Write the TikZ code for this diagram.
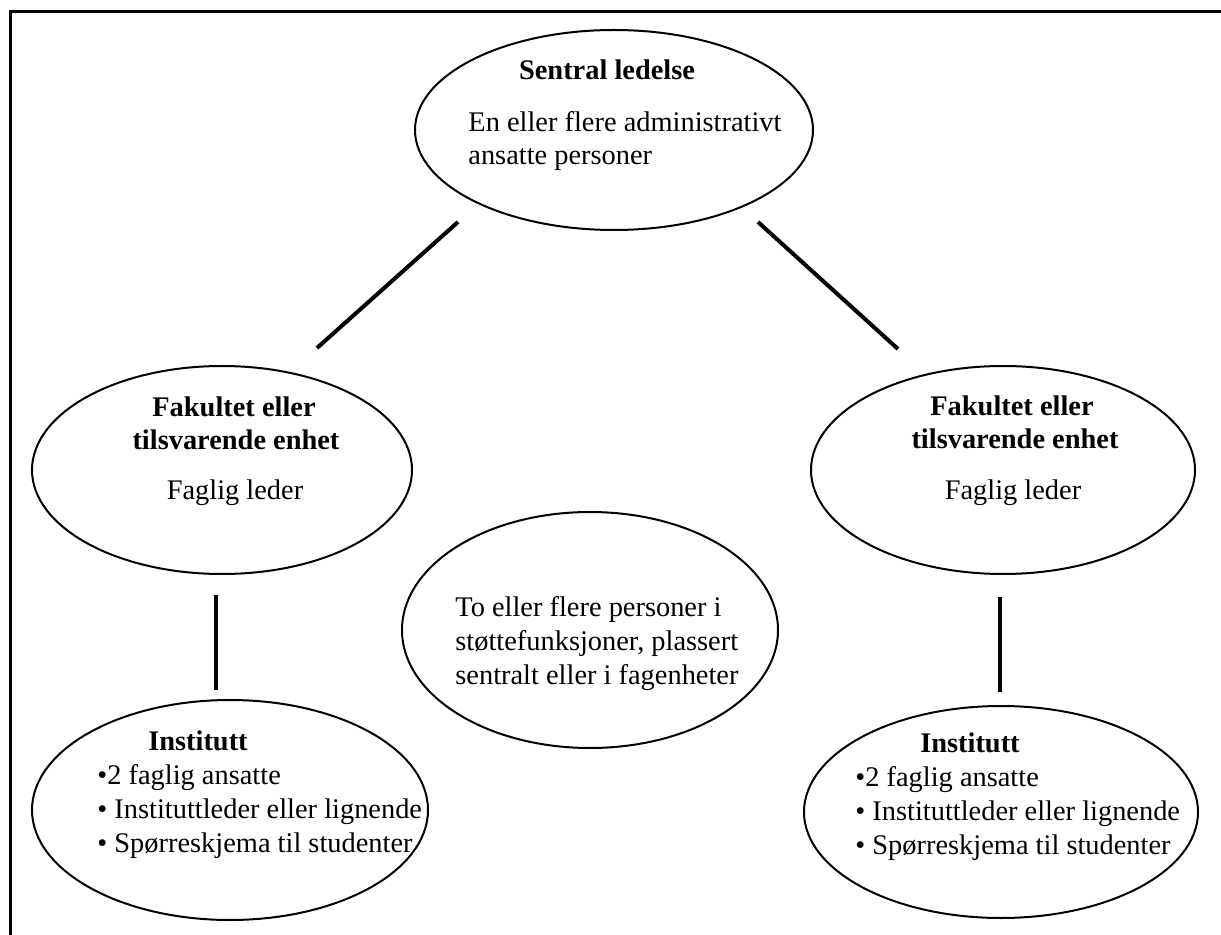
\documentclass[tikz,border=0pt]{standalone}
\usepackage{fontspec}
\setmainfont{Liberation Serif}
\usetikzlibrary{shapes.geometric}
\begin{document}
\begin{tikzpicture}[x=0.5pt,y=-0.5pt,
  ell/.style={ellipse, draw, line width=1pt, inner sep=0pt, outer sep=0pt},
  conn/.style={line width=2pt},
  txt/.style={inner sep=0pt, font=\fontsize{14.2}{16.5}\selectfont},
  head/.style={inner sep=0pt, font=\fontsize{14.2}{16.5}\selectfont\bfseries},
]
\useasboundingbox (0,0) rectangle (1221,935);
\draw[line width=1.5pt] (10,935) -- (10,12) -- (1221,12);

\node[ell, minimum width=199pt, minimum height=100pt] (sentral) at (614,130) {};
\node[ell, minimum width=190pt, minimum height=104pt] (fakL) at (222,470) {};
\node[ell, minimum width=192pt, minimum height=104pt] (fakR) at (1003,470) {};
\node[ell, minimum width=188pt, minimum height=118pt] (mid) at (590,630) {};
\node[ell, minimum width=198pt, minimum height=110pt] (instL) at (230,810) {};
\node[ell, minimum width=197pt, minimum height=106pt] (instR) at (1001,812) {};

\node[head, anchor=base] (s1) at (607,80) {Sentral ledelse};
\node[txt, anchor=base west] (s2) at (468,132) {En eller flere administrativt};
\node[txt, anchor=base west] (s3) at (468,165) {ansatte personer};

\node[head, anchor=base] (fl1) at (234,417) {Fakultet eller};
\node[head, anchor=base] (fl2) at (236,450) {tilsvarende enhet};
\node[txt, anchor=base] (fl3) at (235,500) {Faglig leder};

\node[head, anchor=base] (fr1) at (1012,416) {Fakultet eller};
\node[head, anchor=base] (fr2) at (1015,449) {tilsvarende enhet};
\node[txt, anchor=base] (fr3) at (1013,500) {Faglig leder};

\node[txt, anchor=base west] (m1) at (455,616) {To eller flere personer i};
\node[txt, anchor=base west] (m2) at (455,650) {støttefunksjoner, plassert};
\node[txt, anchor=base west] (m3) at (455,684) {sentralt eller i fagenheter};

\node[head, anchor=base] (il0) at (198,750) {Institutt};
\node[txt, anchor=base west] (il1) at (97,784) {•2 faglig ansatte};
\node[txt, anchor=base west] (il2) at (97,818) {• Instituttleder eller lignende};
\node[txt, anchor=base west] (il3) at (97,852) {• Spørreskjema til studenter};

\node[head, anchor=base] (ir0) at (970,752) {Institutt};
\node[txt, anchor=base west] (ir1) at (855,786) {•2 faglig ansatte};
\node[txt, anchor=base west] (ir2) at (855,820) {• Instituttleder eller lignende};
\node[txt, anchor=base west] (ir3) at (855,854) {• Spørreskjema til studenter};

\coordinate (a1) at (458,222);
\coordinate (a2) at (317,348);
\coordinate (b1) at (758,222);
\coordinate (b2) at (898,349);
\coordinate (c1) at (216,595);
\coordinate (c2) at (216,690);
\coordinate (d1) at (1000,597);
\coordinate (d2) at (1000,692);
\draw[conn] (a1) -- (a2);
\draw[conn] (b1) -- (b2);
\draw[conn] (c1) -- (c2);
\draw[conn] (d1) -- (d2);
\end{tikzpicture}
\end{document}
